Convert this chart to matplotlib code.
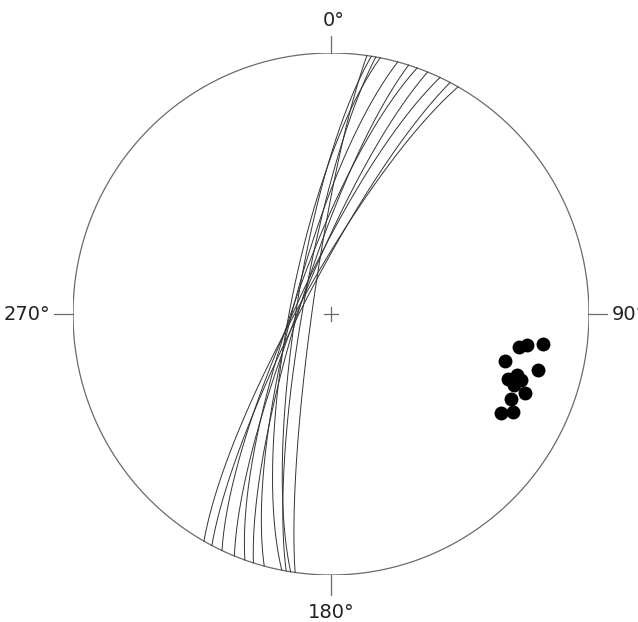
import numpy as np
import matplotlib
matplotlib.use("Agg")
from matplotlib import pyplot as plt

# great circles: strike (right-hand rule) / dip in degrees
strikes = [188, 189, 190, 191, 195, 197.5, 199.5, 202, 205, 207.5, 209.5]
dips = [84, 79, 81, 77, 78, 80, 78, 80, 79, 81, 80]

# lineations: trend / plunge in degrees
trends = [105, 100, 99, 98, 105, 110, 108, 111, 112, 115, 120, 118, 109]
plunges = [31, 27, 24, 18, 18, 28, 25, 25, 20, 24, 25, 21, 23]

direction_labels = ['0°', '90°', '180°', '270°']


def project(trend, plunge):
    # Schmidt (equal-area) lower hemisphere
    t = np.radians(trend)
    p = np.radians(plunge)
    r = np.sqrt(2) * np.sin((np.pi / 2 - p) / 2)
    return r * np.sin(t), r * np.cos(t)


def great_circle(strike, dip, n=200):
    s = np.radians(strike)
    d = np.radians(dip)
    a = np.linspace(0, np.pi, n)
    sv = np.array([np.sin(s), np.cos(s), 0.0])
    dv = np.array([np.sin(s + np.pi / 2) * np.cos(d), np.cos(s + np.pi / 2) * np.cos(d), np.sin(d)])
    v = np.outer(np.cos(a), sv) + np.outer(np.sin(a), dv)
    plunge = np.degrees(np.arcsin(np.clip(v[:, 2], -1, 1)))
    trend = np.degrees(np.arctan2(v[:, 0], v[:, 1]))
    return project(trend, plunge)


fig = plt.figure(figsize=(6.38, 6.22), dpi=100)
ax = fig.add_axes([73 / 638, 47 / 622, 516 / 638, 522 / 622])
ax.set_xlim(-1, 1)
ax.set_ylim(-1, 1)
ax.axis('off')

grey = '#6a6a6a'
th = np.linspace(0, 2 * np.pi, 400)
ax.plot(np.cos(th), np.sin(th), color=grey, lw=0.9)

# centre cross
ax.plot([-0.027, 0.027], [0, 0], color=grey, lw=0.9)
ax.plot([0, 0], [-0.027, 0.027], color=grey, lw=0.9)

# ticks at N, E, S, W
ax.plot([0, 0], [1, 1.066], color=grey, lw=0.9, clip_on=False)
ax.plot([0, 0], [-1, -1.075], color=grey, lw=0.9, clip_on=False)
ax.plot([1, 1.07], [0, 0], color=grey, lw=0.9, clip_on=False)
ax.plot([-1, -1.074], [0, 0], color=grey, lw=0.9, clip_on=False)

fs = 14
kw = dict(fontsize=fs, family=['DejaVu Sans'], color='#222222')
ax.text(0.01, 1.125, direction_labels[0], ha='center', va='center', **kw)
ax.text(1.088, 0.0, direction_labels[1], ha='left', va='center', **kw)
ax.text(0.0, -1.142, direction_labels[2], ha='center', va='center', **kw)
ax.text(-1.088, 0.0, direction_labels[3], ha='right', va='center', **kw)

for s, d in zip(strikes, dips):
    x, y = great_circle(s, d)
    ax.plot(x, y, color='#333333', lw=0.7)

px, py = project(np.array(trends), np.array(plunges))
ax.plot(px, py, 'o', color='black', markersize=10, markeredgewidth=0)

plt.savefig('out.png', dpi=100)
